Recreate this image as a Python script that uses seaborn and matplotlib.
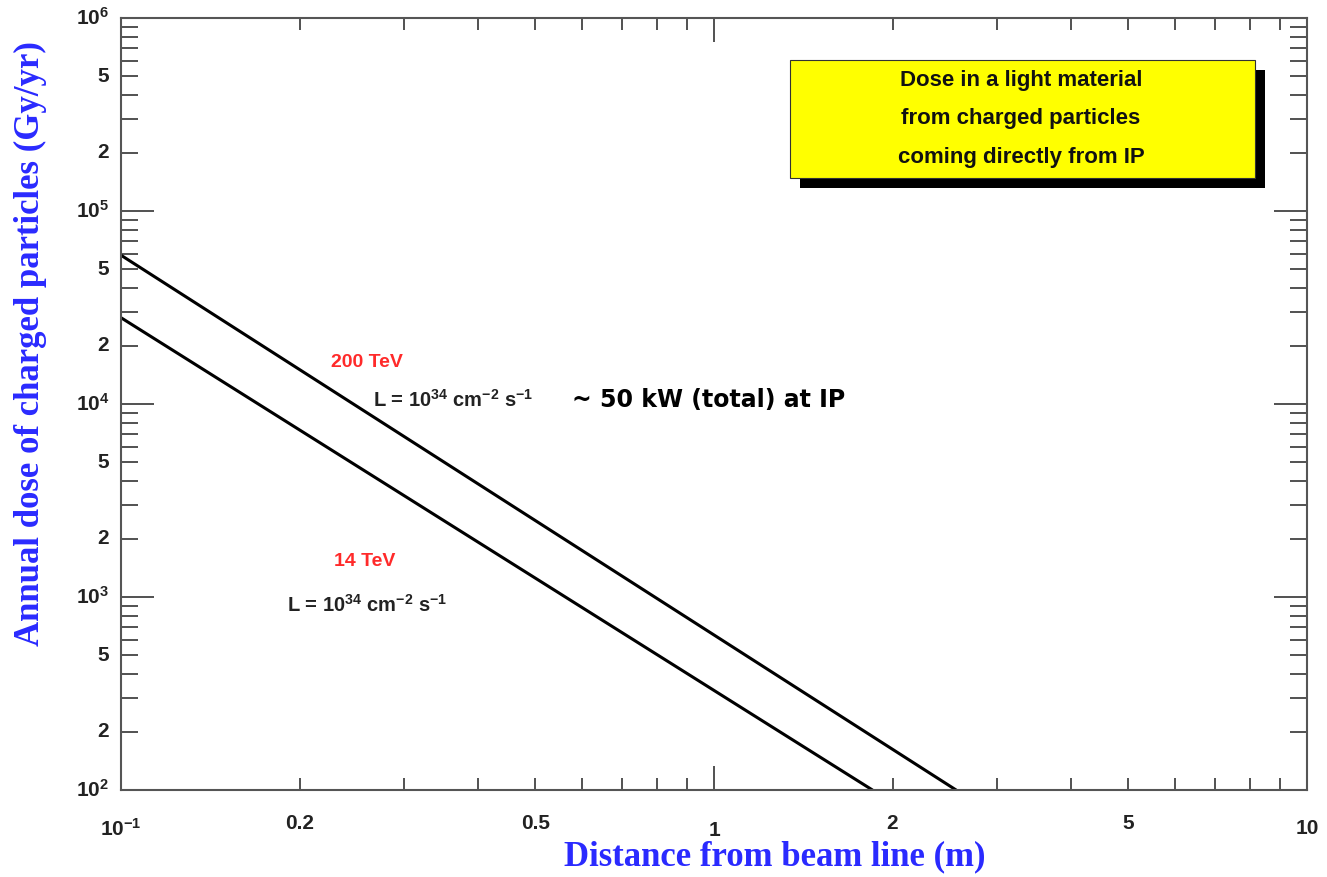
import numpy as np
import pandas as pd
import matplotlib
matplotlib.use('Agg')
import matplotlib.pyplot as plt
import matplotlib.ticker as mticker
from matplotlib.patches import Rectangle
import seaborn as sns

# line end points (log-log straight lines)
dist_200 = [0.1, 2.56]
dose_200 = [5.9e4, 100]
dist_14 = [0.1, 1.85]
dose_14 = [2.8e4, 100]

x_ticks = [0.1, 0.2, 0.5, 1, 2, 5, 10]
x_labels = [r'$10^{-1}$', '0.2', '0.5', '1', '2', '5', '10']
y_ticks = [1e2, 2e2, 5e2, 1e3, 2e3, 5e3, 1e4, 2e4, 5e4, 1e5, 2e5, 5e5, 1e6]
y_labels = [r'$10^{2}$', '2', '5', r'$10^{3}$', '2', '5', r'$10^{4}$', '2', '5',
            r'$10^{5}$', '2', '5', r'$10^{6}$']

df = pd.concat([
    pd.DataFrame({'dist': dist_200, 'dose': dose_200, 'beam': '200 TeV'}),
    pd.DataFrame({'dist': dist_14, 'dose': dose_14, 'beam': '14 TeV'}),
])

sns.set_style('ticks')
plt.rcParams['font.family'] = ['Liberation Sans', 'DejaVu Sans']
plt.rcParams['mathtext.fontset'] = 'custom'
plt.rcParams['mathtext.rm'] = 'Liberation Sans:bold'
plt.rcParams['mathtext.bf'] = 'Liberation Sans:bold'
plt.rcParams['mathtext.default'] = 'bf'

fig = plt.figure(figsize=(13.27, 8.77), dpi=100)
ax = fig.add_axes([121 / 1327, 1 - 790 / 877, 1186 / 1327, 772 / 877])

sns.lineplot(data=df, x='dist', y='dose', units='beam', estimator=None,
             color='black', linewidth=2.2, ax=ax, legend=False)

ax.set_xscale('log')
ax.set_yscale('log')
ax.set_xlim(0.1, 10)
ax.set_ylim(100, 1e6)

ax.xaxis.set_major_locator(mticker.FixedLocator([0.1, 1, 10]))
ax.xaxis.set_minor_locator(mticker.LogLocator(base=10, subs=np.arange(2, 10)))
ax.yaxis.set_major_locator(mticker.FixedLocator([1e2, 1e3, 1e4, 1e5, 1e6]))
ax.yaxis.set_minor_locator(mticker.LogLocator(base=10, subs=np.arange(2, 10)))
ax.xaxis.set_major_formatter(mticker.NullFormatter())
ax.xaxis.set_minor_formatter(mticker.NullFormatter())
ax.yaxis.set_major_formatter(mticker.NullFormatter())
ax.yaxis.set_minor_formatter(mticker.NullFormatter())

ax.tick_params(axis='both', which='both', direction='in', top=True, right=True,
               color='#333333', width=1.2)
ax.tick_params(axis='x', which='major', length=17)
ax.tick_params(axis='x', which='minor', length=8.5)
ax.tick_params(axis='y', which='major', length=24)
ax.tick_params(axis='y', which='minor', length=12)
for s in ax.spines.values():
    s.set_color('#555555')
    s.set_linewidth(1.5)

# tick labels as text so that only 2 and 5 get labelled
for v, lab in zip(x_ticks, x_labels):
    dy = -0.05 if v in (0.1, 10) else -0.044
    if v == 1:
        dy = -0.052
    ax.text(v, dy, lab, transform=ax.get_xaxis_transform(), ha='center', va='center',
            fontsize=15, fontweight='bold', color='#222222')
for v, lab in zip(y_ticks, y_labels):
    ax.text(-0.01, v, lab, transform=ax.get_yaxis_transform(), ha='right', va='center',
            fontsize=15, fontweight='bold', color='#222222')

blue = '#2a2aff'
fig.text(775 / 1327, 1 - 857 / 877, 'Distance from beam line (m)', ha='center', va='center',
         fontsize=25, fontweight='bold', color=blue, family='Liberation Serif')
fig.text(30 / 1327, 1 - 344 / 877, 'Annual dose of charged particles (Gy/yr)', ha='center',
         va='center', rotation=90, fontsize=25, fontweight='bold', color=blue,
         family='Liberation Serif')


# yellow box with shadow, positioned in pixel terms of the axes
def fx(px):
    return (px - 121) / 1186


def fy(py):
    return (790 - py) / 772


ax.add_patch(Rectangle((fx(800), fy(188)), fx(1265) - fx(800), fy(70) - fy(188),
                       transform=ax.transAxes, facecolor='black', edgecolor='none', zorder=3))
ax.add_patch(Rectangle((fx(790), fy(178)), fx(1255) - fx(790), fy(60) - fy(178),
                       transform=ax.transAxes, facecolor='#ffff00', edgecolor='#333333',
                       linewidth=0.8, zorder=4))
for py, line in zip([80, 118, 157], ['Dose in a light material', 'from charged particles',
                                      'coming directly from IP']):
    ax.text(fx(1021), fy(py), line, transform=ax.transAxes, ha='center', va='center',
            fontsize=16, fontweight='bold', color='#111111', zorder=5)

red = '#ff2a2a'
lum = r'L = 10$^{34}$ cm$^{-2}$ s$^{-1}$'
ax.text(fx(367), fy(362), '200 TeV', transform=ax.transAxes, ha='center', va='center',
        fontsize=14, fontweight='bold', color=red)
ax.text(fx(373), fy(400), lum, transform=ax.transAxes,
        ha='left', va='center', fontsize=14.5, fontweight='bold', color='#222222')
ax.text(fx(572), fy(400), '~ 50 kW (total) at IP', transform=ax.transAxes, ha='left',
        va='center', fontsize=17, fontweight='bold', color='black', family='DejaVu Sans')
ax.text(fx(365), fy(562), '14 TeV', transform=ax.transAxes, ha='center', va='center',
        fontsize=14, fontweight='bold', color=red)
ax.text(fx(287), fy(605), lum, transform=ax.transAxes,
        ha='left', va='center', fontsize=14.5, fontweight='bold', color='#222222')

ax.set_xlabel('')
ax.set_ylabel('')
fig.savefig('out.png', dpi=100)
